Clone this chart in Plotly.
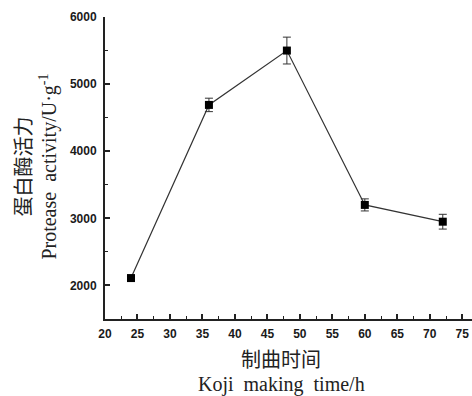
import plotly.graph_objects as go

# Koji making time (h) and protease activity (U/g) with standard deviations
time_h = [24, 36, 48, 60, 72]
activity = [2110, 4690, 5500, 3200, 2950]
activity_sd = [30, 100, 200, 90, 110]

x_ticks = [20, 25, 30, 35, 40, 45, 50, 55, 60, 65, 70, 75]
y_ticks = [2000, 3000, 4000, 5000, 6000]

serif = "Liberation Serif, Times New Roman, Noto Sans CJK SC, serif"
tick_font = dict(family="Liberation Sans, Arial, sans-serif", size=12, color="#1a1a1a", weight="bold")

fig = go.Figure()
fig.add_trace(go.Scatter(
    x=time_h, y=activity,
    mode="lines+markers",
    line=dict(color="#333", width=1.2),
    marker=dict(symbol="square", size=8, color="black"),
    error_y=dict(type="data", array=activity_sd, visible=True,
                 color="#333", thickness=1, width=4),
    showlegend=False,
))

axis_common = dict(
    showline=True, linecolor="#222", linewidth=2,
    ticks="inside", ticklen=5, tickwidth=1.5, tickcolor="#222",
    showgrid=False, zeroline=False, tickfont=tick_font,
    minor=dict(ticks="inside", ticklen=3, tickwidth=1.2, tickcolor="#222", showgrid=False),
)

fig.update_xaxes(range=[20, 76.5], tickvals=x_ticks, ticklabelstandoff=3,
                 minor_dtick=2.5, minor_tick0=22.5, **axis_common)
fig.update_yaxes(range=[1500, 6000], tickvals=y_ticks, ticklabelstandoff=4,
                 minor_dtick=500, minor_tick0=1500, **axis_common)

title_font = dict(family=serif, size=20, color="#222")
annotations = [
    dict(text="蛋白酶活力", x=-0.2207, y=0.505, textangle=-90, font=title_font),
    dict(text="Protease  activity/U·g<sup>-1</sup>", x=-0.155, y=0.505, textangle=-90,
         font=title_font),
    dict(text="制曲时间", x=0.48, y=-0.136, font=title_font),
    dict(text="Koji  making  time/h", x=0.48, y=-0.2185, font=title_font),
]
for a in annotations:
    a.update(xref="paper", yref="paper", showarrow=False, xanchor="center", yanchor="middle")

fig.update_layout(
    width=472, height=396,
    margin=dict(l=105, r=0, t=17, b=77),
    paper_bgcolor="white", plot_bgcolor="white",
    annotations=annotations,
)

fig.write_html("out.html")
